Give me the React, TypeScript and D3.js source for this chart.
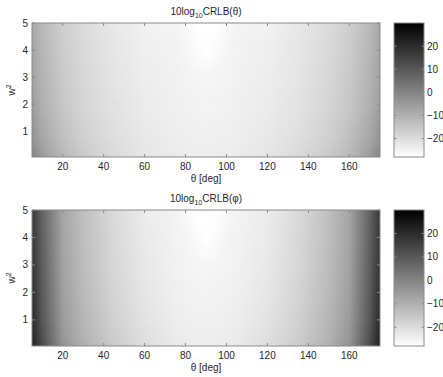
import { useEffect } from "react";
import * as d3 from "d3";

// grid: theta columns (deg), w^2 rows (bottom -> top), values in dB
const thetaCols = [5, 10, 20, 30, 45, 60, 75, 80, 85, 90, 95, 100, 105, 120, 135, 150, 160, 170, 175];
const w2Rows = [0.05, 0.5, 1, 2, 3, 4, 5];

const crlbTheta = [
    [1, -5, -11.8, -15.8, -19.5, -22, -23.3, -23.7, -23.9, -24.1, -23.9, -23.7, -23.3, -22, -19.5, -15.8, -11.8, -5, 1],
    [-2.5, -7, -13, -16.8, -20.3, -22.5, -23.8, -24.1, -24.3, -24.4, -24.3, -24.1, -23.8, -22.5, -20.3, -16.8, -13, -7, -2.5],
    [-4, -8.5, -14, -17.5, -20.9, -23, -24.2, -24.5, -24.7, -24.8, -24.7, -24.5, -24.2, -23, -20.9, -17.5, -14, -8.5, -4],
    [-6, -10, -15.2, -18.4, -21.5, -23.5, -24.6, -24.9, -25.1, -25.2, -25.1, -24.9, -24.6, -23.5, -21.5, -18.4, -15.2, -10, -6],
    [-6.8, -10.8, -15.8, -18.9, -22, -24, -24.9, -25.3, -25.6, -25.9, -25.6, -25.3, -24.9, -24, -22, -18.9, -15.8, -10.8, -6.8],
    [-7.5, -11.5, -16.3, -19.3, -22.3, -24.4, -25.1, -25.7, -27.2, -28.5, -27.2, -25.7, -25.1, -24.4, -22.3, -19.3, -16.3, -11.5, -7.5],
    [-8, -12, -16.8, -19.8, -22.8, -24.8, -25.3, -26.6, -28.8, -29.6, -28.8, -26.6, -25.3, -24.8, -22.8, -19.8, -16.8, -12, -8],
];

const crlbPhi = [
    [23, 12.5, -3.5, -10, -16.2, -20.4, -23, -23.5, -23.8, -24.1, -23.8, -23.5, -23, -20.4, -16.2, -10, -3.5, 12.5, 23],
    [21.5, 11.2, -4.6, -10.8, -16.9, -21, -23.5, -23.9, -24.1, -24.3, -24.1, -23.9, -23.5, -21, -16.9, -10.8, -4.6, 11.2, 21.5],
    [20.5, 10.3, -5.3, -11.4, -17.5, -21.6, -23.9, -24.3, -24.5, -24.7, -24.5, -24.3, -23.9, -21.6, -17.5, -11.4, -5.3, 10.3, 20.5],
    [19.3, 9.3, -6.2, -12.2, -18.2, -22.2, -24.4, -24.8, -25.1, -25.3, -25.1, -24.8, -24.4, -22.2, -18.2, -12.2, -6.2, 9.3, 19.3],
    [18.3, 8.6, -6.8, -12.8, -18.8, -22.8, -24.8, -25.2, -25.6, -25.9, -25.6, -25.2, -24.8, -22.8, -18.8, -12.8, -6.8, 8.6, 18.3],
    [17.5, 8, -7.2, -13.2, -19.2, -23.2, -25, -25.6, -27.1, -28.5, -27.1, -25.6, -25, -23.2, -19.2, -13.2, -7.2, 8, 17.5],
    [17, 7.5, -7.5, -13.5, -19.5, -23.5, -25.2, -26.5, -28.8, -29.6, -28.8, -26.5, -25.2, -23.5, -19.5, -13.5, -7.5, 7.5, 17],
];

const xTicks = [20, 40, 60, 80, 100, 120, 140, 160];
const yTicks = [1, 2, 3, 4, 5];
const cbarTicks = [20, 10, 0, -10, -20];

const frameColor = "#8a8a8a";
const textColor = "#262626";
const font = "'Liberation Sans', Arial, sans-serif";

const color = d3.scaleLinear<string>().domain([-28, 30]).range(["#ffffff", "#000000"]).clamp(true);

interface PanelProps {
    id: string;
    top: number;
    bottom: number;
    values: number[][];
    symbol: string;
}

function Panel({ id, top, bottom, values, symbol }: PanelProps) {
    const left = 32, right = 380;
    const cbLeft = 394, cbRight = 424;

    const x = d3.scaleLinear().domain([5, 175]).range([left, right]);
    const y = d3.scaleLinear().domain([0.05, 5]).range([bottom, top]);
    const cb = d3.scaleLinear().domain([-28, 30]).range([bottom, top]);

    const span = x(175) - x(5);

    return (
        <g>
            <defs>
                {values.map((row, i) => (
                    <linearGradient key={i} id={`${id}-row${i}`} gradientUnits="userSpaceOnUse"
                        x1={x(5)} x2={x(175)} y1={0} y2={0}>
                        {row.map((v, j) => (
                            <stop key={j} offset={(x(thetaCols[j]) - x(5)) / span} stopColor={color(v)} />
                        ))}
                    </linearGradient>
                ))}
                <linearGradient id={`${id}-fade`} x1={0} y1={1} x2={0} y2={0}>
                    <stop offset={0} stopColor="#000" />
                    <stop offset={1} stopColor="#fff" />
                </linearGradient>
                <mask id={`${id}-mask`} maskContentUnits="objectBoundingBox">
                    <rect x={0} y={0} width={1} height={1} fill={`url(#${id}-fade)`} />
                </mask>
                <clipPath id={`${id}-clip`}>
                    <rect x={left} y={top} width={right - left} height={bottom - top} />
                </clipPath>
                <linearGradient id={`${id}-cbar`} x1={0} y1={1} x2={0} y2={0}>
                    <stop offset={0} stopColor={color(-28)} />
                    <stop offset={1} stopColor={color(30)} />
                </linearGradient>
            </defs>

            <g clipPath={`url(#${id}-clip)`}>
                {w2Rows.slice(0, -1).map((w, i) => {
                    const y0 = y(w), y1 = y(w2Rows[i + 1]);
                    return (
                        <g key={i}>
                            <rect x={left} y={y1} width={right - left} height={y0 - y1 + 1}
                                fill={`url(#${id}-row${i})`} />
                            <rect x={left} y={y1} width={right - left} height={y0 - y1}
                                fill={`url(#${id}-row${i + 1})`} mask={`url(#${id}-mask)`} />
                        </g>
                    );
                })}
            </g>

            <rect x={left} y={top} width={right - left} height={bottom - top}
                fill="none" stroke={frameColor} strokeWidth={1} />
            {xTicks.map((t) => (
                <g key={t}>
                    <line x1={x(t)} x2={x(t)} y1={bottom} y2={bottom - 3} stroke={frameColor} />
                    <line x1={x(t)} x2={x(t)} y1={top} y2={top + 3} stroke={frameColor} />
                    <text x={x(t)} y={bottom + 13} textAnchor="middle" fontSize={10} fill={textColor}>{t}</text>
                </g>
            ))}
            {yTicks.map((t) => (
                <g key={t}>
                    <line x1={left} x2={left + 3} y1={y(t)} y2={y(t)} stroke={frameColor} />
                    <line x1={right} x2={right - 3} y1={y(t)} y2={y(t)} stroke={frameColor} />
                    <text x={left - 4} y={y(t) + 3.5} textAnchor="end" fontSize={10} fill={textColor}>{t}</text>
                </g>
            ))}

            <text x={(left + right) / 2} y={bottom + 25} textAnchor="middle" fontSize={10} fill={textColor}>θ [deg]</text>
            <text transform={`translate(15,${(top + bottom) / 2}) rotate(-90)`} textAnchor="middle" fontSize={10} fill={textColor}>
                w<tspan dy={-4} fontSize={7}>2</tspan>
            </text>
            <text x={(left + right) / 2} y={top - 8} textAnchor="middle" fontSize={10} fill={textColor}>
                10log<tspan dy={3} fontSize={7}>10</tspan><tspan dy={-3}>CRLB({symbol})</tspan>
            </text>

            <rect x={cbLeft} y={top} width={cbRight - cbLeft} height={bottom - top}
                fill={`url(#${id}-cbar)`} stroke={frameColor} strokeWidth={1} />
            {cbarTicks.map((t) => (
                <g key={t}>
                    <line x1={cbLeft} x2={cbLeft + 2.5} y1={cb(t)} y2={cb(t)} stroke={frameColor} />
                    <line x1={cbRight} x2={cbRight - 2.5} y1={cb(t)} y2={cb(t)} stroke={frameColor} />
                    <text x={cbRight + 3} y={cb(t) + 3.5} fontSize={10} fill={textColor}>
                        {t < 0 ? "\u2212" + Math.abs(t) : t}
                    </text>
                </g>
            ))}
        </g>
    );
}

export default function App() {
    useEffect(() => {
        document.body.style.margin = "0";
    }, []);

    return (
        <svg width={443} height={377} style={{ display: "block", fontFamily: font }}>
            <rect width={443} height={377} fill="#ffffff" />
            <Panel id="th" top={23} bottom={157} values={crlbTheta} symbol="θ" />
            <Panel id="ph" top={210} bottom={346} values={crlbPhi} symbol="φ" />
        </svg>
    );
}
